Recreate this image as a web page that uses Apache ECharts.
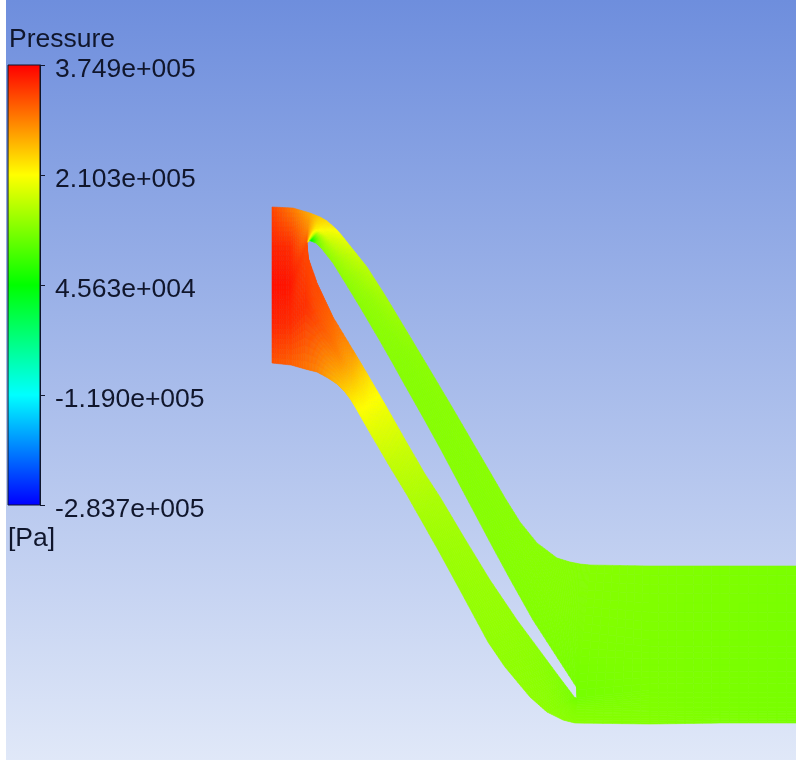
<!DOCTYPE html>
<html>
<head>
<meta charset="utf-8">
<style>html,body{margin:0;padding:0;background:#fff}#main{width:796px;height:760px}</style>
<script src="https://cdn.jsdelivr.net/npm/echarts@6/dist/echarts.min.js"></script>
</head>
<body>
<div id="main"></div>
<script>
// legend
var tickValues = [374900, 210300, 45630, -119000, -283700];
var tickLabels = ['3.749e+005', '2.103e+005', '4.563e+004', '-1.190e+005', '-2.837e+005'];
var palette = ['#0000ff', '#00ffff', '#00ff00', '#ffff00', '#ff0000'];

// mesh stations, each node is [x, y, pressure]
var inletStations = [
    [[272,207,330000],[272,246,352000],[272,285,366000],[272,324,352000],[272,363,322000]],
    [[293,208,295000],[291,246,345000],[291,285,360000],[291,325,345000],[291,365,312000]],
    [[310,213,265000],[308,228,285000],[307,243,325000],[306,306,345000],[305,369,300000]]
];
var upperStations = [
    [[310,213,265000],[308,228,285000],[307,243,325000]],
    [[320,217,245000],[315,229,225000],[309,241,180000]],
    [[327,221,235000],[319,231,210000],[311,241,30000]],
    [[336,229,215000],[326,236,190000],[316,243,110000]],
    [[343,237,200000],[332,243,175000],[322,249,135000]],
    [[355,252,180000],[344,258,160000],[333,263,140000]],
    [[367,267,168000],[356,276,150000],[346,284,136000]],
    [[383,292,155000],[371,299,142000],[360,307,135000]],
    [[400,320,145000],[390,330,137000],[380,341,134000]],
    [[415,345,138000],[403,353,134000],[392,362,133000]],
    [[430,370,135000],[416,375,133000],[402,380,133000]],
    [[452,407,134000],[438,413,133000],[424,419,133000]],
    [[473,443,134000],[456,445,133000],[440,448,133000]],
    [[490,472,134000],[473,475,133000],[456,478,133000]],
    [[505,498,134000],[489,504,133000],[473,510,133000]],
    [[520,522,134000],[505,533,133000],[491,544,132000]],
    [[537,543,134000],[523,561,133000],[510,579,131000]],
    [[557,558,133000],[545,589,132000],[533,620,130000]],
    [[570,562,133000],[562,608,131000],[555,654,127000]],
    [[580,564,132000],[578,626,129000],[577,688,122000]],
    [[590,565,132000],[583,632,129000],[577,698,121000]]
];
var lowerStations = [
    [[307,243,325000],[306,306,345000],[305,369,300000]],
    [[308,257,330000],[312,314,335000],[317,372,290000]],
    [[317,283,328000],[322,330,318000],[328,378,270000]],
    [[325,300,320000],[331,342,305000],[337,384,255000]],
    [[333,317,310000],[339,355,290000],[345,392,240000]],
    [[353,350,280000],[352,375,255000],[351,400,225000]],
    [[362,365,250000],[359,388,232000],[357,410,210000]],
    [[372,382,222000],[368,403,212000],[365,424,200000]],
    [[386,406,202000],[379,422,195000],[373,438,188000]],
    [[407,443,178000],[398,455,174000],[390,467,170000]],
    [[425,474,165000],[416,485,162000],[407,495,160000]],
    [[440,497,156000],[430,507,154000],[420,518,152000]],
    [[465,539,148000],[451,543,147000],[437,548,146000]],
    [[490,580,144000],[475,586,143000],[461,592,142000]],
    [[517,620,140000],[502,631,140000],[488,642,139000]],
    [[540,651,136000],[522,659,137000],[505,667,138000]],
    [[560,678,130000],[545,687,135000],[530,697,137000]],
    [[575,698,122000],[561,705,132000],[547,712,136000]],
    [[576,698,122000],[570,709,131000],[563,720,135000]],
    [[577,698,121000],[576,711,130000],[575,723,134000]]
];
var outletStations = [
    [[590,565,132000],[583,632,129000],[577,698,121000],[576,711,130000],[575,723,134000]],
    [[650,566,130000],[650,640,127000],[650,690,127000],[650,710,129000],[650,724,131000]],
    [[720,566,127000],[720,640,125000],[720,690,125000],[720,710,126000],[720,723,128000]],
    [[796,566,125000],[796,640,123000],[796,690,123000],[796,710,124000],[796,723,125000]]
];
var zones = [inletStations, upperStations, lowerStations, outletStations];

var pMin = tickValues[tickValues.length - 1];
var pMax = tickValues[0];
var textColor = '#10162c';

function pressureColor(p) {
    var t = (p - pMin) / (pMax - pMin);
    return echarts.color.lerp(Math.max(0, Math.min(1, t)), palette);
}

// one data row per mesh cell
var cells = [];
zones.forEach(function (zone, z) {
    for (var i = 0; i < zone.length - 1; i++) {
        for (var j = 0; j < zone[i].length - 1; j++) {
            cells.push([zone[i][j][0], zone[i][j][1], z, i, j]);
        }
    }
});

// bilinear inside one cell, shaded with small quads
function renderCell(params, api) {
    var zone = zones[api.value(2)];
    var i = api.value(3), j = api.value(4);
    var a = zone[i][j], b = zone[i][j + 1], c = zone[i + 1][j + 1], d = zone[i + 1][j];
    var n = 8;
    function at(u, v) {
        var r = [];
        for (var k = 0; k < 3; k++) {
            r[k] = (1 - u) * ((1 - v) * a[k] + v * b[k]) + u * ((1 - v) * d[k] + v * c[k]);
        }
        return r;
    }
    var children = [];
    for (var s = 0; s < n; s++) {
        for (var t = 0; t < n; t++) {
            var p = at((s + 0.5) / n, (t + 0.5) / n)[2];
            var col = pressureColor(p);
            children.push({
                type: 'polygon',
                shape: {
                    points: [at(s / n, t / n), at(s / n, (t + 1) / n), at((s + 1) / n, (t + 1) / n), at((s + 1) / n, t / n)].map(function (q) {
                        return api.coord([q[0], q[1]]);
                    })
                },
                style: { fill: col, stroke: col, lineWidth: 0.6 }
            });
        }
    }
    return { type: 'group', children: children };
}

// colour bar, one gradient rect between two neighbouring ticks
function renderBar(params, api) {
    var top = api.coord([0, api.value(1)]);
    var bottom = api.coord([1, api.value(2)]);
    var idx = api.value(0);
    return {
        type: 'rect',
        shape: { x: top[0], y: top[1], width: bottom[0] - top[0], height: bottom[1] - top[1] },
        style: {
            fill: new echarts.graphic.LinearGradient(0, 0, 0, 1, [
                { offset: 0, color: palette[palette.length - 1 - idx] },
                { offset: 1, color: palette[palette.length - 2 - idx] }
            ])
        }
    };
}

var barSegments = [];
for (var k = 0; k < tickValues.length - 1; k++) {
    barSegments.push([k, tickValues[k], tickValues[k + 1]]);
}

var myChart = echarts.init(document.getElementById('main'), null, { renderer: 'canvas' });
var titleFont = { fontFamily: 'Liberation Sans', fontSize: 26.5, fontWeight: 'normal', color: textColor };
var option = {
    animation: false,
    backgroundColor: '#fff',
    title: [
        { text: 'Pressure', left: 9, top: 26, padding: 0, textStyle: titleFont },
        { text: '[Pa]', left: 8, top: 525, padding: 0, textStyle: titleFont }
    ],
    graphic: [{
        type: 'rect', z: -10, silent: true,
        shape: { x: 6, y: 0, width: 790, height: 760 },
        style: {
            fill: new echarts.graphic.LinearGradient(0, 0, 0, 1, [
                { offset: 0, color: '#6e8edd' },
                { offset: 1, color: '#e0e8f8' }
            ])
        }
    }],
    grid: [
        { left: 0, top: 0, width: 796, height: 760 },
        { left: 8, top: 65, width: 32, height: 440, show: true, backgroundColor: 'transparent', borderColor: '#10162c', borderWidth: 1, z: 5 }
    ],
    xAxis: [
        { type: 'value', min: 0, max: 796, show: false, gridIndex: 0 },
        { type: 'value', min: 0, max: 1, show: false, gridIndex: 1 }
    ],
    yAxis: [
        { type: 'value', min: 0, max: 760, inverse: true, show: false, gridIndex: 0 },
        {
            type: 'value', gridIndex: 1, position: 'right', min: pMin, max: pMax,
            splitLine: { show: false },
            axisLine: { show: true, onZero: false, lineStyle: { color: textColor, width: 1 } },
            axisTick: { show: true, length: 5, customValues: tickValues, lineStyle: { color: textColor, width: 1 } },
            axisLabel: {
                show: true, margin: 15, customValues: tickValues,
                formatter: function (v) { return '{a|' + tickLabels[tickValues.indexOf(v)] + '}'; },
                rich: {
                    a: { fontFamily: 'Liberation Sans', fontSize: 26.5, color: textColor, padding: [9, 0, 0, 0] }
                }
            }
        }
    ],
    series: [
        { type: 'custom', xAxisIndex: 0, yAxisIndex: 0, silent: true, clip: true, data: cells, renderItem: renderCell, encode: { x: 0, y: 1 } },
        { type: 'custom', xAxisIndex: 1, yAxisIndex: 1, silent: true, data: barSegments, renderItem: renderBar, encode: { y: [1, 2] } }
    ]
};
myChart.setOption(option);
</script>
</body>
</html>
